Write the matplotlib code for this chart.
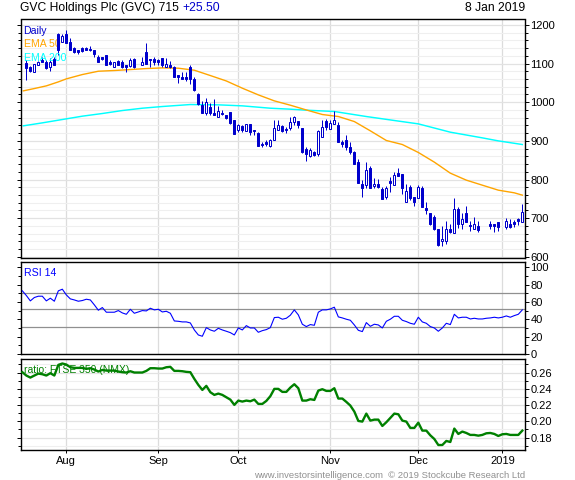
import numpy as np
import matplotlib
matplotlib.use('Agg')
import matplotlib.pyplot as plt
from matplotlib.ticker import MultipleLocator, NullFormatter

nan = float('nan')

# one row per weekday, nan on market holidays
opens = [1101, 1090, 1077, 1095, 1110, 1104, 1090, 1111, 1177, 1157,
         1177, 1155, 1140, 1134, 1140, 1140, 1138, 1135, 1118, 1116,
         1122, 1103, 1092, 1107, 1103, 1095, 1094, 1111, nan, 1097,
         1131, 1111, 1112, 1110, 1114, 1092, 1097, 1091, 1071, 1066,
         1066, 1090, 1060, 1022, 993, 973, 987, 972, 963, 973,
         966, 974, 954, 927, 939, 926, 943, 928, 920, 893,
         898, 887, 903, 929, 939, 931, 934, 950, 952, 934,
         879, 860, 872, 866, 911, 952, 931, 944, 941, 898,
         903, 885, 872, 845, 789, 785, 830, 782, 789, 776,
         756, 797, 785, 816, 815, 741, 781, 756, 751, 779,
         727, 714, 704, 671, 640, 640, 672, 661, 724, 685,
         713, 682, 673, 679, nan, nan, 685, 684, 690, nan,
         676, 685, 691, 698, 690]
highs = [1110, 1094, 1098, 1107, 1116, 1110, 1114, 1118, 1180, 1176,
         1187, 1166, 1144, 1135, 1144, 1144, 1146, 1135, 1122, 1118,
         1122, 1110, 1104, 1110, 1108, 1097, 1114, 1114, nan, 1116,
         1154, 1113, 1116, 1111, 1115, 1114, 1107, 1094, 1071, 1077,
         1077, 1097, 1065, 1023, 1002, 1010, 998, 1009, 991, 980,
         967, 974, 954, 944, 941, 944, 943, 928, 922, 896,
         901, 904, 953, 954, 941, 937, 961, 965, 952, 934,
         884, 881, 875, 927, 954, 957, 954, 976, 950, 903,
         916, 898, 875, 853, 799, 845, 835, 804, 801, 780,
         782, 806, 819, 830, 815, 789, 786, 756, 786, 782,
         742, 714, 709, 673, 680, 693, 685, 753, 728, 713,
         732, 693, 704, 693, nan, nan, 694, 684, 690, nan,
         701, 698, 696, 700, 737]
lows = [1058, 1079, 1077, 1095, 1103, 1085, 1081, 1095, 1122, 1157,
        1152, 1135, 1127, 1124, 1131, 1135, 1133, 1118, 1104, 1110,
        1097, 1097, 1092, 1097, 1088, 1079, 1092, 1088, nan, 1097,
        1099, 1092, 1095, 1095, 1092, 1090, 1088, 1065, 1049, 1060,
        1055, 1047, 1029, 993, 972, 966, 967, 967, 963, 967,
        956, 944, 918, 922, 922, 925, 914, 916, 887, 885,
        888, 883, 903, 928, 923, 920, 927, 941, 933, 868,
        849, 857, 861, 860, 911, 928, 930, 944, 896, 884,
        877, 866, 839, 790, 756, 779, 779, 779, 778, 749,
        749, 769, 785, 810, 763, 741, 747, 732, 751, 730,
        712, 683, 670, 629, 627, 633, 661, 661, 675, 673,
        689, 666, 673, 663, nan, nan, 672, 663, 668, nan,
        671, 675, 677, 683, 690]
closes = [1088, 1081, 1098, 1104, 1103, 1088, 1105, 1095, 1135, 1172,
          1152, 1135, 1131, 1131, 1133, 1136, 1134, 1125, 1105, 1111,
          1097, 1098, 1103, 1097, 1092, 1090, 1110, 1090, nan, 1103,
          1099, 1108, 1105, 1105, 1095, 1099, 1092, 1066, 1066, 1061,
          1061, 1060, 1031, 995, 973, 1000, 972, 968, 978, 969,
          958, 947, 919, 941, 927, 943, 922, 926, 888, 889,
          893, 903, 933, 941, 925, 928, 949, 962, 940, 871,
          866, 877, 864, 925, 935, 935, 946, 954, 896, 892,
          883, 870, 839, 790, 779, 825, 779, 789, 781, 749,
          778, 792, 812, 810, 779, 771, 752, 741, 781, 730,
          722, 684, 671, 631, 646, 672, 663, 723, 685, 698,
          691, 679, 685, 670, nan, nan, 679, 681, 676, nan,
          692, 678, 686, 692, 715]

ema50_days = [-0.75, 2, 5, 8, 10, 14, 18, 22, 26, 30, 34, 38, 42, 46, 50, 54, 58, 62,
              66, 70, 74, 78, 82, 86, 90, 94, 98, 102, 106, 110, 114, 118, 122, 124]
ema50 = [1029.4, 1035.4, 1042.3, 1052.6, 1060.4, 1071.6, 1080.2, 1082, 1084.5, 1087.1,
         1088.8, 1088, 1082.8, 1069, 1055, 1036.3, 1019, 1003.5, 992.3, 980, 968.2, 963,
         950, 926, 901, 890.6, 870, 845, 816.5, 798.4, 785.4, 772.5, 765.6, 759.6]
ema200_days = [-0.75, 4, 10, 14, 19, 24, 29, 34, 41, 48, 54, 61, 66,
               70, 77, 85, 92, 98, 106, 114, 118, 124]
ema200 = [938.9, 946.6, 957, 963.9, 970.8, 978.5, 984.5, 988.9, 994, 993.2, 990.6, 984.5,
          982, 979.4, 976, 963, 952.7, 944, 922.5, 907.8, 900, 890.6]

# first value sits one day before the first candle
rsi = [73, 67.6, 61.4, 65.3, 66.8, 66.8, 61.4, 64.5, 61, 73,
       74.9, 68.3, 63.7, 62.5, 61, 61.8, 63.3, 62.5, 56.8, 50.6,
       53.7, 48.3, 48.3, 48.3, 50.2, 47.5, 45.9, 51.7, 47.1, 48.6,
       50.2, 49.8, 52.9, 51, 51.7, 48.6, 49.4, 47.1, 38.2, 37.8,
       37.1, 37.1, 35.9, 27.8, 22, 20.5, 30.5, 27.8, 26.3, 29.7,
       27.8, 26.3, 24.7, 22, 30.1, 27.8, 32.8, 30.1, 30.1, 25.1,
       27, 28.2, 30.5, 42.1, 42.5, 40.2, 41.3, 44.8,
       51, 45.2, 34.4, 31.7, 34, 33.2, 48.3, 51, 51, 52.1,
       54.1, 42.9, 41.7, 40.2, 39, 33.6, 27.4, 25.9, 36.3, 32,
       34.4, 33.6, 30.1, 37.8, 40.2, 43.6, 43.6, 39, 37.5, 35.5,
       34.4, 42.5, 37.1, 35.5, 31.7, 30.1, 26.3, 30.1, 35.5, 34,
       45.9, 41.7, 42.5, 42.5, 40.5, 41.3, 40.5, 40.5, 41.3, 41.7,
       42.5, 41.7, 42.5, 44, 42.5, 44.4, 45.9, 51]
ratio = [.2604, .2563, .2538, .2563, .2587, .2579, .2563, .2592, .2563, .2694,
         .2711, .2698, .2665, .2657, .2657, .2657, .2645, .2653, .2637, .2612,
         .2632, .2624, .2624, .2624, .2612, .2604, .26, .2616, .26, .26,
         .26, .262, .2653, .2653, .2649, .2649, .2665, .267, .262, .262,
         .2616, .2608, .2604, .2522, .2448, .2386, .2436, .2358, .2325, .2341,
         .2325, .2296, .2267, .2202, .2255, .2243, .2255, .2247, .2267, .2214,
         .2214, .2251, .2309, .2399, .2399, .2362, .2362, .2415,
         .2456, .2407, .2255, .2255, .2272, .2263, .2378, .2395, .2374, .2374,
         .2407, .228, .228, .2239, .2194, .212, .2005, .1997, .2095, .2009,
         .2021, .2021, .1943, .1989, .2042, .2095, .2087, .2009, .1997, .1919,
         .1919, .1984, .1886, .1886, .1828, .1783, .1709, .1709, .1759, .1746,
         .1911, .1845, .1874, .1857, .1833, .1833, .1824, .1833, .1853, .1857,
         .1845, .182, .1841, .1845, .1833, .1833, .1833, .1886]

month_days = [10, 33, 53, 76, 98, 119]
month_labels = ['Aug', 'Sep', 'Oct', 'Nov', 'Dec', '2019']
rsi_levels = [70, 51.7, 30.9]

BLUE = '#0000cc'
W, H = 575, 480
plt.rcParams['font.family'] = ['Liberation Sans', 'DejaVu Sans']
plt.rcParams['font.size'] = 8


def panel(top, bottom, ylim, major, minor):
    ax = fig.add_axes([20.5 / W, 1 - bottom / H, 504.5 / W, (bottom - top) / H])
    ax.set_xlim(-1.46, 124.67)
    ax.set_ylim(*ylim)
    for s in ax.spines.values():
        s.set_linewidth(1.0)
    ax.yaxis.set_major_locator(MultipleLocator(major))
    ax.yaxis.set_minor_locator(MultipleLocator(minor))
    ax.yaxis.tick_right()
    ax.tick_params(axis='y', which='major', length=3, width=0.7, pad=0.8, right=True, left=True)
    ax.tick_params(axis='y', which='minor', length=2, width=0.7, right=True, left=True)
    ax.set_xticks(month_days)
    ax.set_xticklabels([])
    ax.tick_params(axis='x', length=0)
    ax.grid(axis='x', color='#dcdcdc', lw=0.9)
    ax.set_axisbelow(True)
    return ax


fig = plt.figure(figsize=(W / 100, H / 100), dpi=100)

# price panel
ax1 = panel(19.5, 258, (597, 1214), 100, 20)
ax1.grid(axis='y', which='major', color='#e2e2e2', lw=0.9)
ax1.grid(axis='y', which='minor', color='#efefef', lw=0.8)
days = np.arange(len(opens))
o, h, l, c = [np.array(a, dtype=float) for a in (opens, highs, lows, closes)]
ax1.plot(ema200_days, ema200, color='#00ffff', lw=1.05, zorder=2)
ax1.plot(ema50_days, ema50, color='#ffa500', lw=1.0, zorder=2)
ax1.vlines(days, l, h, color=BLUE, lw=0.72, zorder=3)
up = c >= o
down = c < o
ax1.bar(days[down], (o - c)[down], bottom=c[down], width=0.5, color=BLUE,
        edgecolor=BLUE, lw=0.72, zorder=4)
ax1.bar(days[up], (c - o)[up], bottom=o[up], width=0.5, color='white',
        edgecolor=BLUE, lw=0.72, zorder=4)
ax1.text(23.5 / W, 1 - 30.5 / H, 'Daily', color=BLUE, fontsize=7.6, transform=fig.transFigure, va='center')
ax1.text(23.5 / W, 1 - 44 / H, 'EMA 50', color='#ffa500', fontsize=7.6, transform=fig.transFigure, va='center')
ax1.text(23.5 / W, 1 - 58 / H, 'EMA 200', color='#00ffff', fontsize=7.6, transform=fig.transFigure, va='center')

# rsi panel
ax2 = panel(262.3, 354, (0, 106), 20, 10)
for level in rsi_levels:
    ax2.axhline(level, color='#909090', lw=0.9, zorder=1)
ax2.plot(np.arange(len(rsi)) - 1, rsi, color='#0000ff', lw=0.8, zorder=3)
ax2.text(23.5 / W, 1 - 273 / H, 'RSI 14', color='#0000ff', fontsize=7.6, transform=fig.transFigure, va='center')

# ratio panel
ax3 = panel(358.7, 450.3, (0.1644, 0.277), 0.02, 0.01)
ax3.grid(axis='y', which='major', color='#e2e2e2', lw=0.9)
ax3.grid(axis='y', which='minor', color='#efefef', lw=0.8)
ax3.yaxis.set_major_formatter(lambda v, pos: '%.2f' % v)
ax3.yaxis.set_minor_formatter(NullFormatter())
ax3.plot(np.arange(len(ratio)) - 1, ratio, color='#008000', lw=1.7, zorder=3)
ax3.text(23.5 / W, 1 - 370 / H, 'ratio: FTSE 350 (NMX)', color='#008000', fontsize=7.5,
         transform=fig.transFigure, va='center', zorder=6)
ax3.set_xticklabels(month_labels)
ax3.tick_params(axis='x', length=2.5, width=0.7, pad=1.5)

# header and footer
fig.text(20 / W, 1 - 8 / H, 'GVC Holdings Plc (GVC) 715', fontsize=8.7, va='center', color='black')
fig.text(182 / W, 1 - 8 / H, '+25.50', fontsize=8.7, va='center', color=BLUE)
fig.text(525 / W, 1 - 8 / H, '8 Jan 2019', fontsize=8.7, va='center', ha='right', color='black')
fig.text(525 / W, 1 - 477.5 / H, 'www.investorsintelligence.com  © 2019 Stockcube Research Ltd',
         fontsize=6.8, va='baseline', ha='right', color='#909090')

fig.savefig('out.png', dpi=100)
